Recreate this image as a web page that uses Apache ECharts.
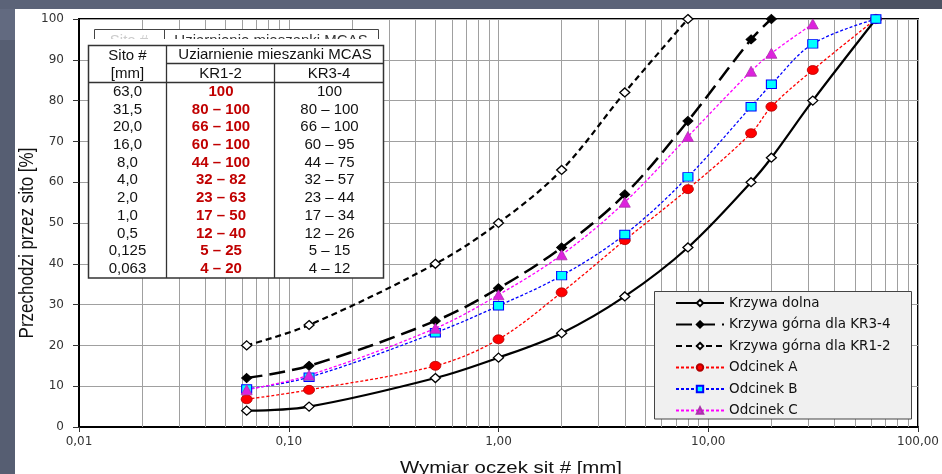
<!DOCTYPE html>
<html>
<head>
<meta charset="utf-8">
<script src="https://cdn.jsdelivr.net/npm/echarts@6/dist/echarts.min.js"></script>
<style>
html,body{margin:0;padding:0;background:#fff;}
#chart{width:942px;height:474px;}
</style>
</head>
<body>
<div id="chart"></div>
<script>
// ---- data ----
const sieves = [0.063, 0.125, 0.5, 1, 2, 4, 8, 16, 20, 31.5, 63];
const lowerCurve = [4, 5, 12, 17, 23, 32, 44, 60, 66, 80, 100];
const upperKR34 = [12, 15, 26, 34, 44, 57, 75, 95, 100];
const upperKR12 = [20, 25, 40, 50, 63, 82, 100];
const odcinekA = [6.8, 9.1, 15, 21.5, 33, 45.8, 58.3, 72, 78.5, 87.5, 100];
const odcinekB = [9.3, 12.2, 23.1, 29.7, 37.1, 47.2, 61.3, 78.5, 84, 93.9, 100];
const odcinekC = [9.1, 12.7, 24.2, 32.4, 42.2, 55.1, 71.2, 87.2, 91.6, 98.8];

const seriesNames = ['Krzywa dolna', 'Krzywa górna dla KR3-4', 'Krzywa górna dla KR1-2', 'Odcinek A', 'Odcinek B', 'Odcinek C'];

const xTickValues = [0.01, 0.1, 1, 10, 100];
const xTickLabels = ['0,01', '0,10', '1,00', '10,00', '100,00'];
const minorMultipliers = [2, 3, 4, 5, 6, 7, 8, 9];

const tableHeader = ['Sito #', '[mm]', 'Uziarnienie mieszanki MCAS', 'KR1-2', 'KR3-4'];
const tableSieves = ['63,0', '31,5', '20,0', '16,0', '8,0', '4,0', '2,0', '1,0', '0,5', '0,125', '0,063'];
const rangeKR12 = ['100', '80 – 100', '66 – 100', '60 – 100', '44 – 100', '32 – 82', '23 – 63', '17 – 50', '12 – 40', '5 – 25', '4 – 20'];
const rangeKR34 = ['100', '80 – 100', '66 – 100', '60 – 95', '44 – 75', '32 – 57', '23 – 44', '17 – 34', '12 – 26', '5 – 15', '4 – 12'];

const xName = 'Wymiar oczek sit # [mm]';
const yName = 'Przechodzi przez sito [%]';

// ---- helpers ----
function pairs(vals) { return vals.map((v, i) => [sieves[i], v]); }
const minorGrid = [];
xTickValues.slice(0, -1).forEach(d => minorMultipliers.forEach(m => minorGrid.push({ xAxis: +(d * m).toPrecision(6) })));

const chart = echarts.init(document.getElementById('chart'));
const ARIAL = 'Liberation Sans, Arial, sans-serif';
const WIDE = 'DejaVu Sans, sans-serif';

// table graphic
const tbl = [];
const TZ = 50;
// ghost (behind) table header
tbl.push({ type: 'rect', z: TZ, shape: { x: 94.5, y: 29.5, width: 284, height: 30 }, style: { fill: '#fff', stroke: '#444', lineWidth: 1 } });
tbl.push({ type: 'line', z: TZ, shape: { x1: 164.5, y1: 29.5, x2: 164.5, y2: 59 }, style: { stroke: '#444', lineWidth: 1 } });
tbl.push({ type: 'text', z: TZ, x: 271, y: 41, style: { text: tableHeader[2], font: '15px ' + ARIAL, fill: '#333', textAlign: 'center', textVerticalAlign: 'middle', align: 'center', verticalAlign: 'middle' } });
tbl.push({ type: 'text', z: TZ, x: 129, y: 41, style: { text: tableHeader[0], font: '15px ' + ARIAL, fill: '#ccc', textAlign: 'center', textVerticalAlign: 'middle', align: 'center', verticalAlign: 'middle' } });
// cover + front table
tbl.push({ type: 'rect', z: TZ + 1, shape: { x: 88, y: 39, width: 297, height: 8 }, style: { fill: '#fff' } });
tbl.push({ type: 'rect', z: TZ + 1, shape: { x: 88.5, y: 45.5, width: 295, height: 232.5 }, style: { fill: '#fff', stroke: '#333', lineWidth: 1.5 } });
const lineStyleT = { stroke: '#333', lineWidth: 1.3 };
tbl.push({ type: 'line', z: TZ + 2, shape: { x1: 166.5, y1: 45.5, x2: 166.5, y2: 278 }, style: lineStyleT });
tbl.push({ type: 'line', z: TZ + 2, shape: { x1: 274.5, y1: 63.5, x2: 274.5, y2: 278 }, style: lineStyleT });
tbl.push({ type: 'line', z: TZ + 2, shape: { x1: 166.5, y1: 63.5, x2: 383.5, y2: 63.5 }, style: lineStyleT });
tbl.push({ type: 'line', z: TZ + 2, shape: { x1: 88.5, y1: 82.5, x2: 383.5, y2: 82.5 }, style: lineStyleT });
function ttext(x, y, t, color, bold) {
  tbl.push({ type: 'text', z: TZ + 3, x: x, y: y, style: { text: t, font: (bold ? 'bold ' : '') + '15px ' + ARIAL, fill: color, textAlign: 'center', textVerticalAlign: 'middle', align: 'center', verticalAlign: 'middle' } });
}
ttext(127.5, 56, tableHeader[0], '#111');
ttext(127.5, 73.5, tableHeader[1], '#111');
ttext(275, 55, tableHeader[2], '#111');
ttext(220.5, 73.5, tableHeader[3], '#111');
ttext(329, 73.5, tableHeader[4], '#111');
tableSieves.forEach((s, i) => {
  const y = 92 + i * 17.67;
  ttext(127.5, y, s, '#111');
  ttext(221, y, rangeKR12[i], '#c00000', true);
  ttext(329.5, y, rangeKR34[i], '#111');
});

const bg = [
  { type: 'rect', z: -10, shape: { x: 0, y: 0, width: 942, height: 9 }, style: { fill: '#5b6378' } },
  { type: 'rect', z: -10, shape: { x: 860, y: 0, width: 82, height: 9 }, style: { fill: '#4d5363' } },
  { type: 'rect', z: -10, shape: { x: 0, y: 9, width: 15, height: 31 }, style: { fill: '#626a80' } },
  { type: 'rect', z: -10, shape: { x: 0, y: 40, width: 15, height: 434 }, style: { fill: '#565e72' } },
  { type: 'rect', z: 60, shape: { x: 654.5, y: 291.5, width: 257, height: 127.5 }, style: { fill: '#f0f0f0', stroke: '#444', lineWidth: 1 } },
  { type: 'text', z: 10, x: 511, y: 468, scaleX: 1.2, style: { text: xName, font: '17px ' + ARIAL, fill: '#111', textAlign: 'center', textVerticalAlign: 'middle', align: 'center', verticalAlign: 'middle' } },
  { type: 'text', z: 10, x: 27, y: 243, rotation: Math.PI / 2, scaleY: 1.2, style: { text: yName, font: '17px ' + ARIAL, fill: '#111', textAlign: 'center', textVerticalAlign: 'middle', align: 'center', verticalAlign: 'middle' } }
];

const dotted = [3, 2];
const SM = 0.35;
const option = {
  animation: false,
  backgroundColor: '#fff',
  grid: { left: 79, right: 22, top: 19, bottom: 47, show: true, borderColor: '#000', borderWidth: 2, backgroundColor: 'transparent' },
  xAxis: {
    type: 'log', logBase: 10, min: 0.01, max: 100,
    axisLine: { lineStyle: { color: '#000', width: 2 } },
    axisTick: { show: true, length: 5, lineStyle: { color: '#333' } },
    axisLabel: {
      margin: 9, color: '#333', fontFamily: WIDE, fontSize: 12,
      formatter: function (v) {
        for (let i = 0; i < xTickValues.length; i++) {
          if (Math.abs(Math.log10(v) - Math.log10(xTickValues[i])) < 1e-6) return xTickLabels[i];
        }
        return '';
      }
    },
    splitLine: { show: true, lineStyle: { color: '#a0a0a0', width: 1 } }
  },
  yAxis: {
    type: 'value', min: 0, max: 100, interval: 10,
    axisLine: { show: true, lineStyle: { color: '#000', width: 2 } },
    axisTick: { show: true, length: 6, lineStyle: { color: '#333' } },
    axisLabel: { margin: 15, color: '#333', fontFamily: WIDE, fontSize: 12 },
    splitLine: { show: true, lineStyle: { color: '#a0a0a0', width: 1 } }
  },
  legend: {
    z: 70, orient: 'vertical', left: 675, top: 295,
    data: seriesNames,
    itemWidth: 48, itemHeight: 8, itemGap: 5.5,
    padding: 0,
    textStyle: { fontFamily: WIDE, fontSize: 13.5, color: '#111', lineHeight: 16 }
  },
  graphic: { elements: bg.concat(tbl) },
  series: [
    {
      name: '_grid', type: 'line', data: [], silent: true, z: 1,
      markLine: { silent: true, symbol: ['none', 'none'], label: { show: false }, animation: false,
        lineStyle: { color: '#a0a0a0', type: 'solid', width: 1 }, emphasis: { disabled: true }, data: minorGrid }
    },
    {
      name: seriesNames[0], type: 'line', data: pairs(lowerCurve), smooth: SM, z: 5,
      symbol: 'diamond', symbolSize: [10, 9],
      lineStyle: { color: '#000', width: 2.2, type: 'solid' },
      itemStyle: { color: '#fff', borderColor: '#000', borderWidth: 1.3 }
    },
    {
      name: seriesNames[1], type: 'line', data: pairs(upperKR34), smooth: SM, z: 5,
      symbol: 'diamond', symbolSize: [10, 9],
      lineStyle: { color: '#000', width: 2.5, type: [16, 7] },
      itemStyle: { color: '#000', borderColor: '#000', borderWidth: 1 }
    },
    {
      name: seriesNames[2], type: 'line', data: pairs(upperKR12), smooth: SM, z: 5,
      symbol: 'diamond', symbolSize: [10, 9],
      lineStyle: { color: '#000', width: 2.2, type: [6, 4] },
      itemStyle: { color: '#fff', borderColor: '#000', borderWidth: 1.3 }
    },
    {
      name: seriesNames[3], type: 'line', data: pairs(odcinekA), smooth: SM, z: 6,
      symbol: 'circle', symbolSize: [11, 9],
      lineStyle: { color: '#ff0000', width: 1.3, type: dotted },
      itemStyle: { color: '#ff0000', borderColor: '#b00000', borderWidth: 0.8 }
    },
    {
      name: seriesNames[4], type: 'line', data: pairs(odcinekB), smooth: SM, z: 6,
      symbol: 'rect', symbolSize: [10, 8.5],
      lineStyle: { color: '#0000ff', width: 1.3, type: dotted },
      itemStyle: { color: '#00ffff', borderColor: '#0000ff', borderWidth: 1 }
    },
    {
      name: seriesNames[5], type: 'line', data: pairs(odcinekC), smooth: SM, z: 6,
      symbol: 'triangle', symbolSize: [11, 10],
      lineStyle: { color: '#ff00ff', width: 1.3, type: dotted },
      itemStyle: { color: '#dd22dd', borderColor: '#aa33aa', borderWidth: 0.8 }
    }
  ]
};
chart.setOption(option);
</script>
</body>
</html>
